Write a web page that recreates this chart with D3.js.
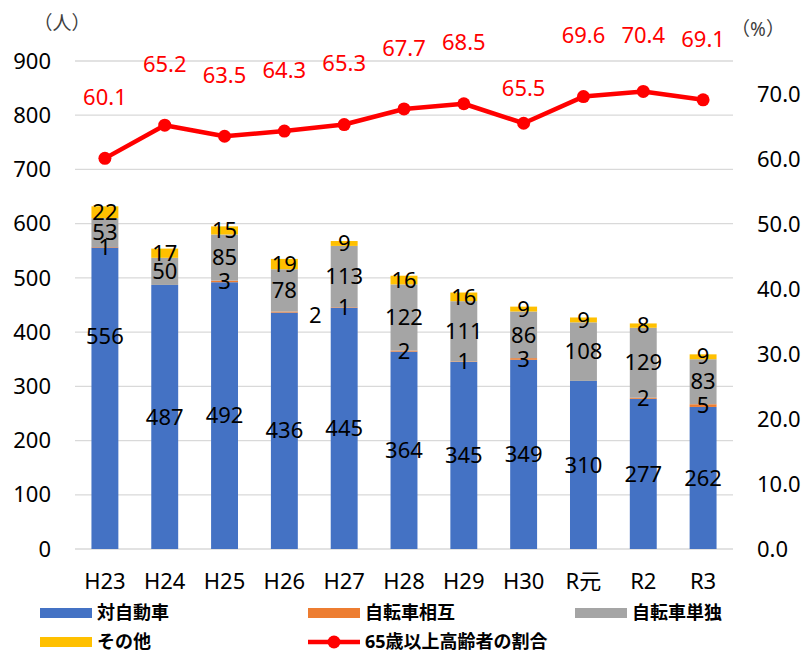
<!DOCTYPE html>
<html>
<head>
<meta charset="utf-8">
<script src="https://cdn.jsdelivr.net/npm/d3@7"></script>
<style>
  body { margin: 0; background: #fff; }
  svg { font-family: "Noto Sans", "Noto Sans CJK JP", sans-serif; }
</style>
</head>
<body>
<svg id="chart" width="807" height="653"></svg>
<script>
// Data
const years = ["H23", "H24", "H25", "H26", "H27", "H28", "H29", "H30", "R元", "R2", "R3"];
const vsCar = [556, 487, 492, 436, 445, 364, 345, 349, 310, 277, 262];      // 対自動車
const bikeBike = [1, 0, 3, 2, 1, 2, 1, 3, 0, 2, 5];                          // 自転車相互
const bikeAlone = [53, 50, 85, 78, 113, 122, 111, 86, 108, 129, 83];         // 自転車単独
const other = [22, 17, 15, 19, 9, 16, 16, 9, 9, 8, 9];                       // その他
const elderRate = [60.1, 65.2, 63.5, 64.3, 65.3, 67.7, 68.5, 65.5, 69.6, 70.4, 69.1]; // 65歳以上高齢者の割合
const leftTicks = [0, 100, 200, 300, 400, 500, 600, 700, 800, 900];
const rightTicks = [0, 10, 20, 30, 40, 50, 60, 70];

const seriesNames = ["対自動車", "自転車相互", "自転車単独", "その他"];
const seriesColors = ["#4472C4", "#ED7D31", "#A5A5A5", "#FFC000"];
const lineName = "65歳以上高齢者の割合";

const svg = d3.select("#chart");

const x = d3.scaleBand()
    .domain(years)
    .range([75, 733])
    .paddingInner(0.55)
    .paddingOuter(0.275);

const yL = d3.scaleLinear().domain([0, 900]).range([549, 61]);
const yR = d3.scaleLinear().domain([0, 70]).range([549, 94]);

// gridlines
svg.append("g")
    .selectAll("line")
    .data(leftTicks)
    .join("line")
    .attr("x1", 75).attr("x2", 733)
    .attr("y1", d => yL(d)).attr("y2", d => yL(d))
    .attr("stroke", "#d9d9d9")
    .attr("stroke-width", 1.3);

// left axis labels
svg.append("g")
    .selectAll("text")
    .data(leftTicks)
    .join("text")
    .attr("x", 51)
    .attr("y", d => yL(d))
    .attr("dy", "0.35em")
    .attr("text-anchor", "end")
    .attr("font-size", 22)
    .text(d => d);

// right axis labels
svg.append("g")
    .selectAll("text")
    .data(rightTicks)
    .join("text")
    .attr("x", 757)
    .attr("y", d => yR(d))
    .attr("dy", "0.35em")
    .attr("font-size", 22)
    .text(d => d.toFixed(1));

// unit labels
svg.append("text").attr("x", 62).attr("y", 23).attr("dy", "0.35em")
    .attr("text-anchor", "middle").attr("font-size", 19).attr("fill", "#404040").text("（人）");
svg.append("text").attr("x", 758).attr("y", 29).attr("dy", "0.35em")
    .attr("text-anchor", "middle").attr("font-size", 19).attr("fill", "#404040").text("（%）");

// x labels
svg.append("g")
    .selectAll("text")
    .data(years)
    .join("text")
    .attr("x", d => x(d) + x.bandwidth() / 2)
    .attr("y", 581)
    .attr("dy", "0.35em")
    .attr("text-anchor", "middle")
    .attr("font-size", 22)
    .text(d => d);

// stacked bars
const rows = years.map((y, i) => ({
    year: y, s0: vsCar[i], s1: bikeBike[i], s2: bikeAlone[i], s3: other[i]
}));
const stack = d3.stack().keys(["s0", "s1", "s2", "s3"]);
const stacked = stack(rows);

svg.append("g")
    .selectAll("g")
    .data(stacked)
    .join("g")
    .attr("fill", (d, i) => seriesColors[i])
    .selectAll("rect")
    .data(d => d)
    .join("rect")
    .attr("x", d => x(d.data.year))
    .attr("width", x.bandwidth())
    .attr("y", d => yL(d[1]))
    .attr("height", d => yL(d[0]) - yL(d[1]));

// bar value labels, drawn after all bars (some were moved by hand in the original)
const labelNudge = { "0-0": [0, -62], "1-3": [31, 3] };
const labelData = [];
stacked.forEach((layer, li) => {
    layer.forEach((d, i) => {
        if (d[1] - d[0] > 0) labelData.push({ li, i, d });
    });
});
svg.append("g")
    .selectAll("text")
    .data(labelData)
    .join("text")
    .attr("x", e => x(years[e.i]) + x.bandwidth() / 2 + ((labelNudge[`${e.li}-${e.i}`] || [0, 0])[0]))
    .attr("y", e => (yL(e.d[0]) + yL(e.d[1])) / 2 + ((labelNudge[`${e.li}-${e.i}`] || [0, 0])[1]))
    .attr("dy", "0.35em")
    .attr("text-anchor", "middle")
    .attr("font-size", 22)
    .attr("fill", "#000")
    .text(e => e.d[1] - e.d[0]);

// rate line
const cx = (d, i) => x(years[i]) + x.bandwidth() / 2;
const line = d3.line().x(cx).y(d => yR(d));
svg.append("path")
    .datum(elderRate)
    .attr("d", line)
    .attr("fill", "none")
    .attr("stroke", "#FF0000")
    .attr("stroke-width", 4.5)
    .attr("stroke-linejoin", "round");

svg.append("g")
    .selectAll("circle")
    .data(elderRate)
    .join("circle")
    .attr("cx", cx)
    .attr("cy", d => yR(d))
    .attr("r", 6.5)
    .attr("fill", "#FF0000");

const rateNudge = { 7: 26, 9: 5 };
svg.append("g")
    .selectAll("text")
    .data(elderRate)
    .join("text")
    .attr("x", cx)
    .attr("y", (d, i) => yR(d) - 61 + (rateNudge[i] || 0))
    .attr("dy", "0.35em")
    .attr("text-anchor", "middle")
    .attr("font-size", 22)
    .attr("fill", "#FF0000")
    .text(d => d.toFixed(1));

// legend
const legendItems = [
    { name: seriesNames[0], color: seriesColors[0], type: "rect", x: 40, y: 613 },
    { name: seriesNames[1], color: seriesColors[1], type: "rect", x: 308, y: 613 },
    { name: seriesNames[2], color: seriesColors[2], type: "rect", x: 575, y: 613 },
    { name: seriesNames[3], color: seriesColors[3], type: "rect", x: 40, y: 642 },
    { name: lineName, color: "#FF0000", type: "line", x: 308, y: 642 }
];
const lg = svg.append("g")
    .selectAll("g")
    .data(legendItems)
    .join("g")
    .attr("transform", d => `translate(${d.x},${d.y})`);

lg.filter(d => d.type === "rect").append("rect")
    .attr("x", 0).attr("y", -5).attr("width", 52).attr("height", 10)
    .attr("fill", d => d.color);
lg.filter(d => d.type === "line").append("line")
    .attr("x1", 0).attr("x2", 52).attr("y1", 0).attr("y2", 0)
    .attr("stroke", d => d.color).attr("stroke-width", 4.5);
lg.filter(d => d.type === "line").append("circle")
    .attr("cx", 26).attr("cy", 0).attr("r", 6.5).attr("fill", d => d.color);
lg.append("text")
    .attr("x", 57).attr("y", 0).attr("dy", "0.35em")
    .attr("font-size", 18).attr("font-weight", "bold")
    .text(d => d.name);
</script>
</body>
</html>
